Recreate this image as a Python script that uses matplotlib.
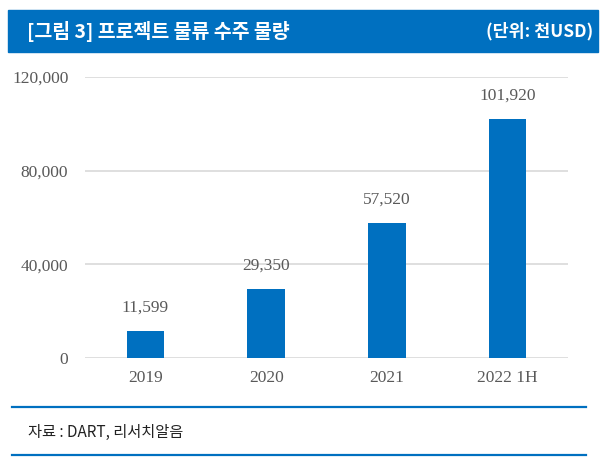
import matplotlib
matplotlib.use("Agg")
import matplotlib.pyplot as plt
from matplotlib.patches import Rectangle
from matplotlib.lines import Line2D

categories = ["2019", "2020", "2021", "2022 1H"]
values = [11599, 29350, 57520, 101920]
value_labels = ["11,599", "29,350", "57,520", "101,920"]
yticks = [0, 40000, 80000, 120000]
ytick_labels = ["0", "40,000", "80,000", "120,000"]

blue = "#0070C0"
grey_text = "#595959"
kr = ["Noto Sans CJK KR", "DejaVu Sans"]
serif = ["Liberation Serif", "DejaVu Serif"]

fig = plt.figure(figsize=(6.06, 4.62), dpi=100)
W, H = 606, 462

# header band
fig.patches.append(Rectangle((8 / W, 1 - 52 / H), 590 / W, 42 / H,
                             transform=fig.transFigure, color=blue, zorder=0))
fig.text(27 / W, 1 - 31 / H, "[그림 3] 프로젝트 물류 수주 물량", family=kr,
         fontsize=14, fontweight="bold", color="white", va="center", ha="left")
fig.text(593 / W, 1 - 31 / H, "(단위: 천USD)", family=kr,
         fontsize=12.5, fontweight="bold", color="white", va="center", ha="right")

ax = fig.add_axes([85 / W, 1 - 358 / H, 483 / W, 281 / H])
x = range(len(categories))
ax.bar(x, values, width=0.31, color=blue, zorder=2)
for xi, v, lab in zip(x, values, value_labels):
    ax.annotate(lab, (xi, v), xytext=(0, 11), textcoords="offset points",
                ha="center", va="bottom", family=serif, fontsize=12.5, color=grey_text)

ax.set_xlim(-0.5, len(categories) - 0.5)
ax.set_ylim(0, 120000)
ax.set_yticks(yticks)
ax.set_yticklabels(ytick_labels, family=serif, fontsize=12.5, color=grey_text)
ax.set_xticks(list(x))
ax.set_xticklabels(categories, family=serif, fontsize=12.5, color=grey_text)
ax.tick_params(length=0, pad=12)
ax.tick_params(axis="x", pad=9)
ax.grid(axis="y", color="#d9d9d9", linewidth=1.2, zorder=0)
ax.set_axisbelow(True)
for s in ax.spines.values():
    s.set_visible(False)

# footer lines and source
for yy in (407, 455):
    fig.lines.append(Line2D([12 / W, 586 / W], [1 - yy / H, 1 - yy / H],
                            transform=fig.transFigure, color=blue, linewidth=1.6))
fig.text(28 / W, 1 - 432 / H, "자료 : DART, 리서치알음", family=kr,
         fontsize=11, color="#222222", va="center", ha="left")

fig.savefig("out.png", dpi=100)
